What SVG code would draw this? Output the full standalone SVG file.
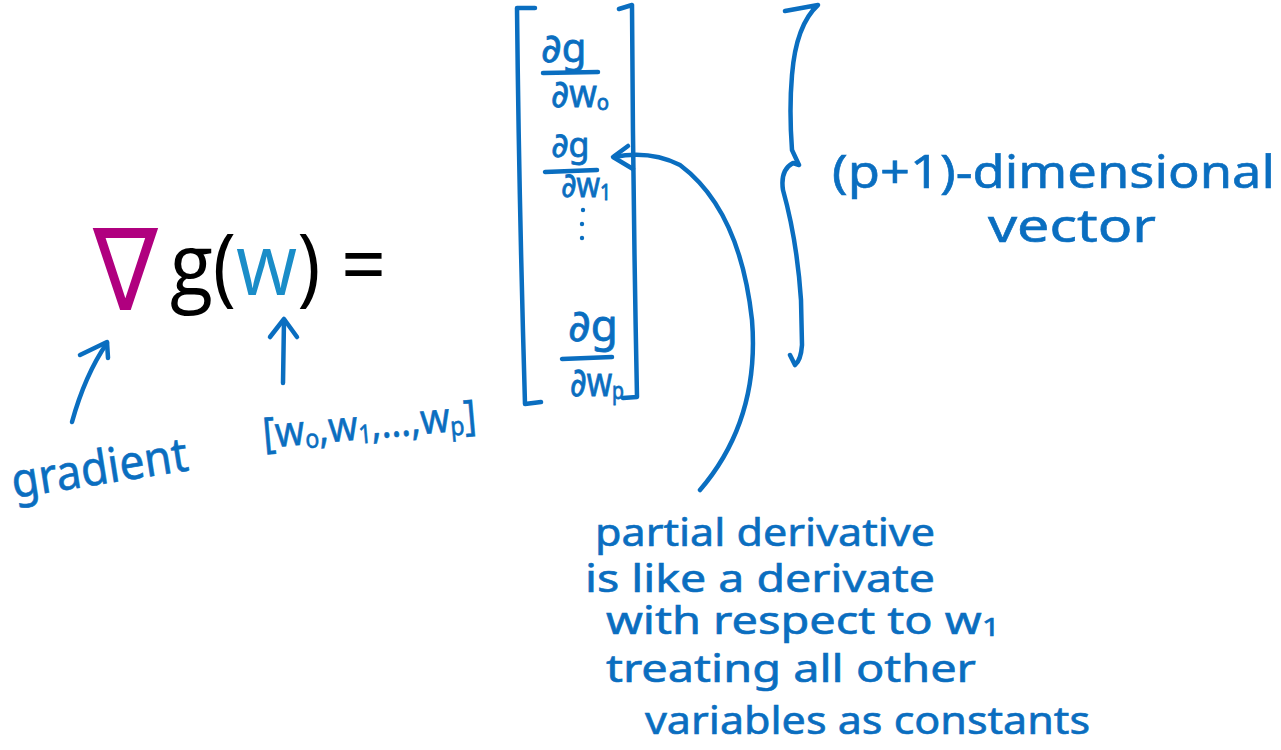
<svg xmlns="http://www.w3.org/2000/svg" width="1281" height="750" viewBox="0 0 1281 750">
<defs>
<style>
.ink{fill:none;stroke:#0A6EC0;stroke-width:4.5;stroke-linecap:round;stroke-linejoin:round}
.hand{font-family:"Noto Sans","DejaVu Sans",sans-serif;fill:#0A6EC0;stroke:#0A6EC0;stroke-width:0.6}
.math{font-family:"Noto Sans","DejaVu Sans",sans-serif;fill:#0A6EC0;stroke:#0A6EC0;stroke-width:0.8}
.eq{font-family:"Open Sans","Liberation Sans",sans-serif;font-size:86px;fill:#000}
</style>
</defs>
<rect width="1281" height="750" fill="#fff"/>

<g id="formula">
<text x="0" y="0" font-family="DejaVu Sans" font-size="100" fill="#B0007F" transform="translate(93,310) scale(0.97,1.14)">∇</text>
<text class="eq" x="170" y="295" textLength="216" lengthAdjust="spacingAndGlyphs">g(<tspan fill="#1A8DC8">w</tspan>) =</text>
</g>

<g id="matrix">
<path class="ink" d="M535,8 L517,8 Q519,200 525,404 L541,402"/>
<path class="ink" d="M619,9 L632,5 Q633,200 637,397 L623,398"/>
<text class="math" x="541" y="62" font-size="40">∂g</text>
<path class="ink" d="M543,73 L598,72"/>
<text class="math" x="551" y="107" font-size="38" textLength="58" lengthAdjust="spacingAndGlyphs">∂w<tspan font-size="22" dy="3">o</tspan></text>
<text class="math" x="551" y="157" font-size="34">∂g</text>
<path class="ink" d="M545,172 L597,170"/>
<text class="math" x="561" y="197" font-size="34" textLength="50" lengthAdjust="spacingAndGlyphs">∂w<tspan font-size="22" dy="3">1</tspan></text>
<circle cx="583" cy="210" r="2.2" fill="#0A6EC0"/>
<circle cx="582" cy="224" r="2.2" fill="#0A6EC0"/>
<circle cx="582" cy="238" r="2.2" fill="#0A6EC0"/>
<text class="math" x="568" y="341" font-size="44">∂g</text>
<path class="ink" d="M562,359 L612,357"/>
<text class="math" x="570" y="396" font-size="40" textLength="54" lengthAdjust="spacingAndGlyphs">∂w<tspan font-size="24" dy="3">p</tspan></text>
</g>

<g id="dimension-label">
<path class="ink" d="M785,11 L818,5 Q796,25 792,75 Q789,110 792,150 L799,165 L793,163 Q780,170 783,190 Q797,240 801,300 L802,345 Q801,360 795,365 L790,355"/>
<text class="hand" x="832" y="188" font-size="46" textLength="443" lengthAdjust="spacingAndGlyphs">(p+1)-dimensional</text>
<text class="hand" x="988" y="242" font-size="46" textLength="168" lengthAdjust="spacingAndGlyphs">vector</text>
</g>

<g id="gradient-label">
<text class="hand" x="14" y="498" font-size="48" textLength="178" lengthAdjust="spacingAndGlyphs" transform="rotate(-9 14 498)">gradient</text>
</g>

<g id="w-label">
<text class="hand" x="264" y="448" font-size="42" textLength="214" lengthAdjust="spacingAndGlyphs" transform="rotate(-5 264 448)">[w<tspan font-size="26" dy="4">o</tspan><tspan dy="-4">,w</tspan><tspan font-size="26" dy="4">1</tspan><tspan dy="-4">,…,w</tspan><tspan font-size="26" dy="4">p</tspan><tspan dy="-4">]</tspan></text>
</g>

<g id="note">
<text class="hand" x="595" y="546" font-size="38" textLength="340" lengthAdjust="spacingAndGlyphs">partial derivative</text>
<text class="hand" x="585" y="592" font-size="38" textLength="350" lengthAdjust="spacingAndGlyphs">is like a derivate</text>
<text class="hand" x="606" y="634" font-size="38" textLength="394" lengthAdjust="spacingAndGlyphs">with respect to w<tspan font-size="26" dy="2">1</tspan></text>
<text class="hand" x="606" y="682" font-size="38" textLength="370" lengthAdjust="spacingAndGlyphs">treating all other</text>
<text class="hand" x="645" y="734" font-size="38" textLength="445" lengthAdjust="spacingAndGlyphs">variables as constants</text>
</g>

<g id="connectors">
<path class="ink" d="M72,422 Q85,375 107,343"/>
<path class="ink" d="M80,355 L107,342 L108,358"/>
<path class="ink" d="M283,383 L284,320"/>
<path class="ink" d="M270,337 L284,319 L297,337"/>
<path class="ink" d="M700,490 Q760,420 752,320 Q740,210 680,165 Q650,150 614,157"/>
<path class="ink" d="M628,146 L613,157 L633,169"/>
</g>
</svg>
